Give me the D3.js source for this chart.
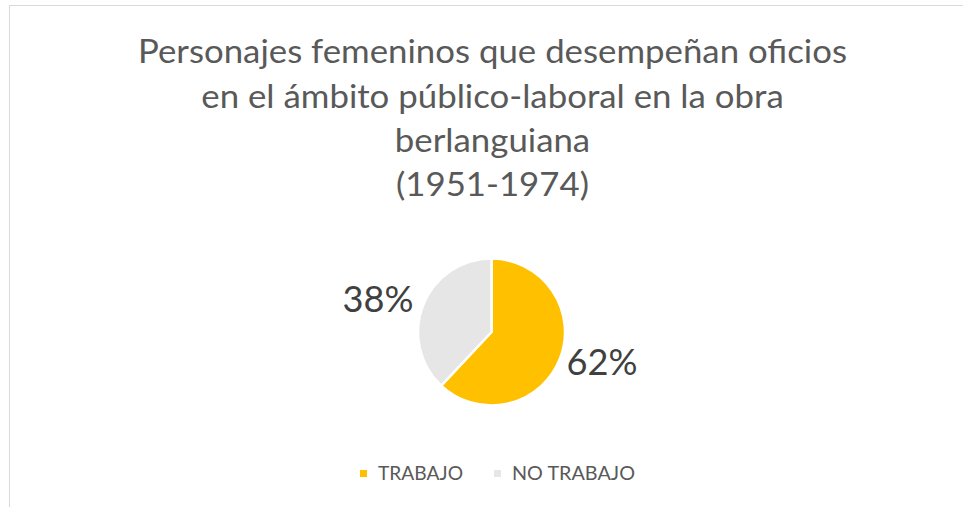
<!DOCTYPE html>
<html><head><meta charset="utf-8">
<script src="https://cdn.jsdelivr.net/npm/d3@7"></script>
<style>html,body{margin:0;padding:0;background:#fff;overflow:hidden}</style>
</head><body>
<svg id="c" width="963" height="507"></svg>
<script>
const categories = ["TRABAJO", "NO TRABAJO"];
const values = [62, 38];
const colors = ["#FFC000", "#E7E6E6"];
const titleLines = ["Personajes femeninos que desempeñan oficios", "en el ámbito público-laboral en la obra", "berlanguiana", "(1951-1974)"];

const svg = d3.select("#c");
const FONT = "Lato, 'Open Sans', sans-serif";

// chart border
svg.append("rect").attr("x", 9.5).attr("y", 5.5).attr("width", 1000).attr("height", 600)
  .attr("fill", "#fff").attr("stroke", "#D9D9D9").attr("stroke-width", 1);

// title
const titleG = svg.append("g");
const baselines = [63, 108, 152, 196];
const tl = titleG.selectAll("text").data(titleLines).join("text")
  .attr("x", 492.5).attr("y", (d, i) => baselines[i])
  .attr("text-anchor", "middle")
  .attr("font-family", FONT).attr("font-size", 32)
  .attr("fill", "#595959").text(d => d);
const w0 = tl.node().getComputedTextLength();
const sx = 709 / w0;
tl.each(function () {
  const w = this.getComputedTextLength();
  d3.select(this).attr("textLength", w * sx).attr("lengthAdjust", "spacingAndGlyphs");
});

// pie
const cx = 491.5, cy = 332, R = 73.5;
const pie = d3.pie().sort(null).value(d => d.v);
const arcs = pie(categories.map((c, i) => ({ c, v: values[i], col: colors[i] })));
const arc = d3.arc().innerRadius(0).outerRadius(R);
const g = svg.append("g").attr("transform", `translate(${cx},${cy})`);
g.selectAll("path").data(arcs).join("path")
  .attr("d", arc).attr("fill", d => d.data.col)
  .attr("stroke", "#fff").attr("stroke-width", 2.5).attr("stroke-linejoin", "round");

const total = d3.sum(values);
g.selectAll("text").data(arcs).join("text")
  .each(function (d) {
    const a = (d.startAngle + d.endAngle) / 2;
    const px = Math.sin(a) * (R + 4), py = -Math.cos(a) * (R + 4);
    const left = px < 0;
    d3.select(this)
      .attr("x", px + (left ? -6 : 3))
      .attr("y", py + (left ? 8.5 : 14.5))
      .attr("text-anchor", left ? "end" : "start");
  })
  .attr("font-family", FONT).attr("font-size", 37.5)
  .attr("fill", "#404040")
  .text(d => Math.round(d.data.v / total * 100) + "%")
  .attr("textLength", 71).attr("lengthAdjust", "spacingAndGlyphs");

// legend
const legendX = [360, 494];
const lg = svg.append("g");
const items = lg.selectAll("g").data(categories).join("g")
  .attr("transform", (d, i) => `translate(${legendX[i]},470)`);
items.append("rect").attr("width", 7).attr("height", 7).attr("fill", (d, i) => colors[i]);
items.append("text").attr("x", 18).attr("y", 10)
  .attr("font-family", FONT).attr("font-size", 19.5).attr("fill", "#595959")
  .text(d => d)
  .each(function (d, i) {
    const target = [85, 123][i];
    d3.select(this).attr("textLength", target).attr("lengthAdjust", "spacingAndGlyphs");
  });
</script>
</body></html>
